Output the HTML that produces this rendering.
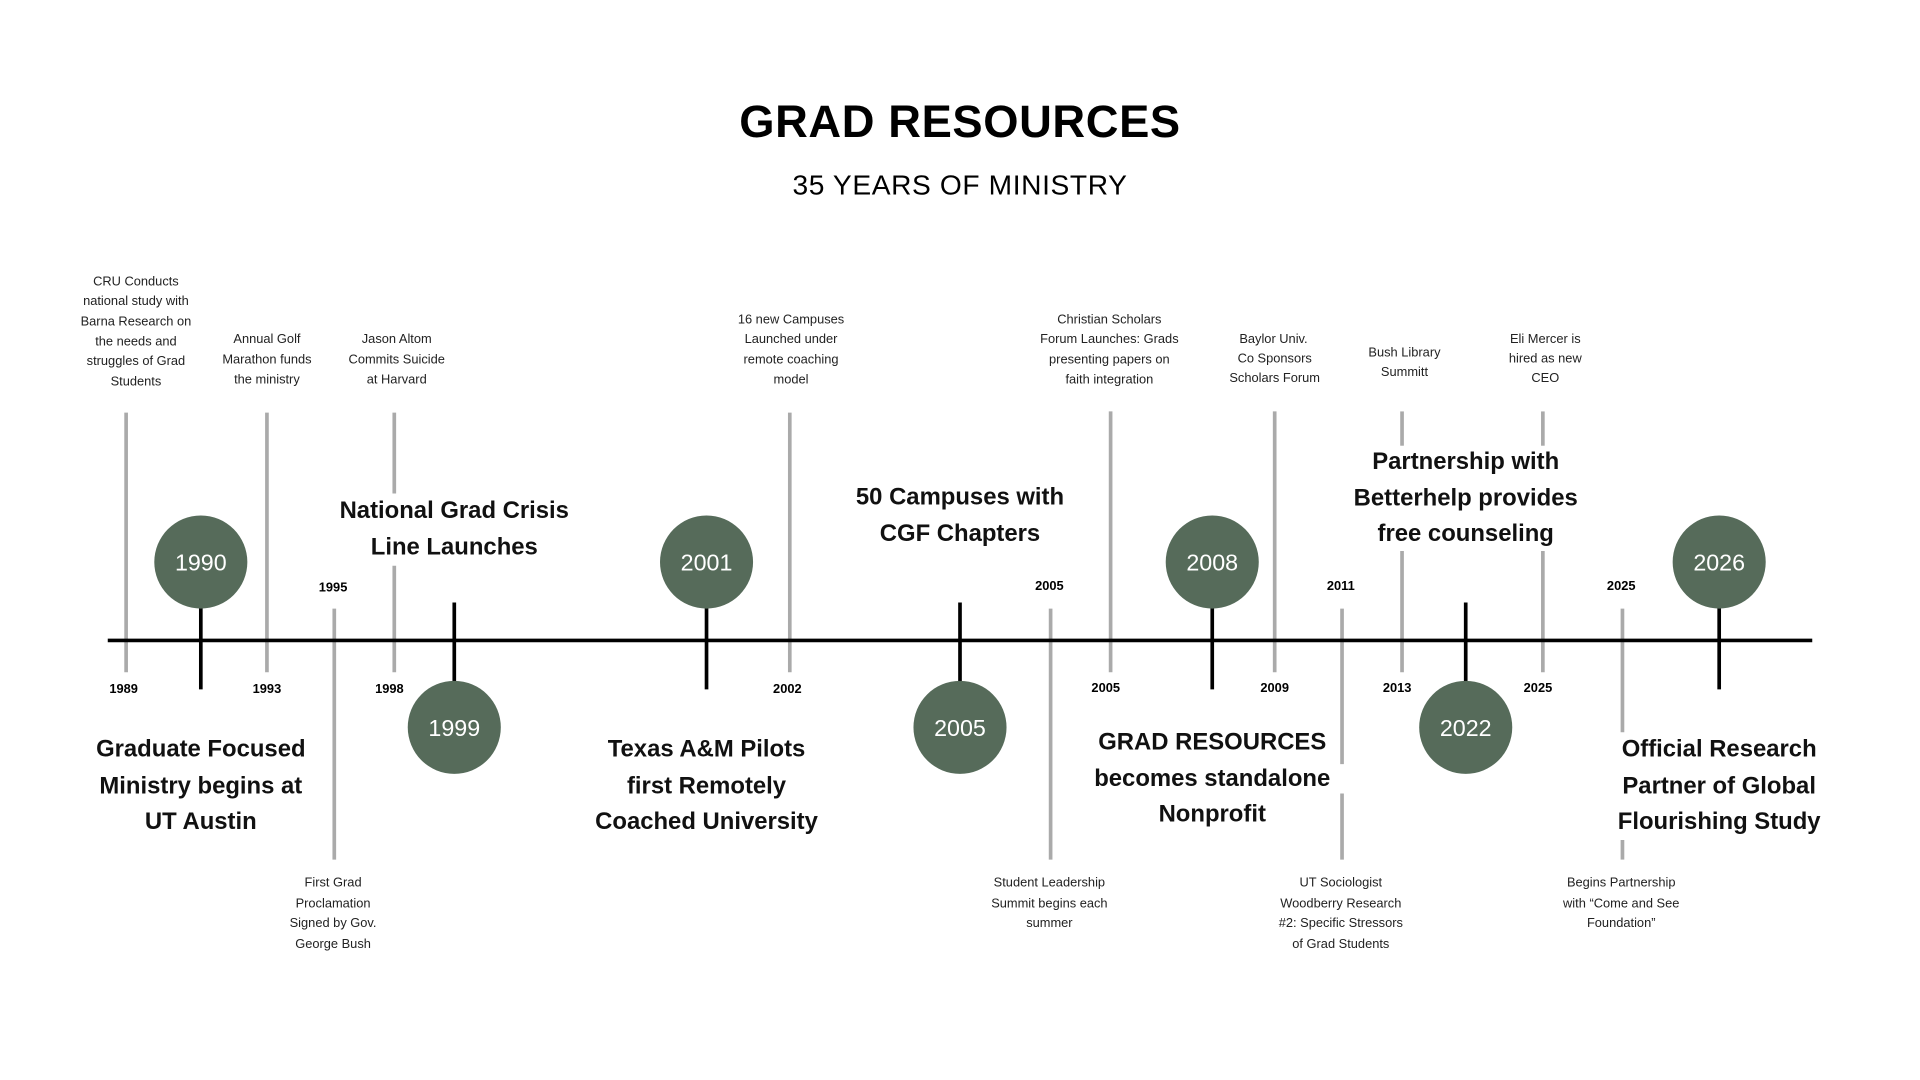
<!DOCTYPE html>
<html><head><meta charset="utf-8"><style>
html,body{margin:0;padding:0;background:#fff;}
svg{display:block;}
text{font-family:"Liberation Sans",sans-serif;fill:#000;}
.s{font-size:10.5px;text-anchor:middle;fill:#222;}
.y{font-size:10.5px;font-weight:bold;text-anchor:middle;}
.b{font-size:19.5px;font-weight:bold;text-anchor:middle;fill:#111;}
.c{font-size:19px;text-anchor:middle;fill:#fff;}
.g{stroke:#aaa;stroke-width:3;}
.k{stroke:#000;stroke-width:3;}
</style></head><body>
<svg width="1920" height="1080" viewBox="0 0 1568 882" xmlns="http://www.w3.org/2000/svg">
<text x="784" y="112" text-anchor="middle" font-size="37" font-weight="bold" letter-spacing="0.5">GRAD RESOURCES</text>
<text x="784" y="159" text-anchor="middle" font-size="23" letter-spacing="0.5">35 YEARS OF MINISTRY</text>

<line class="g" x1="103" y1="337" x2="103" y2="549"/>
<line class="g" x1="218" y1="337" x2="218" y2="549"/>
<line class="g" x1="322" y1="337" x2="322" y2="403"/><line class="g" x1="322" y1="462" x2="322" y2="549"/>
<line class="g" x1="273" y1="497" x2="273" y2="702"/>
<line class="g" x1="645" y1="337" x2="645" y2="549"/>
<line class="g" x1="858" y1="497" x2="858" y2="702"/>
<line class="g" x1="907" y1="336" x2="907" y2="549"/>
<line class="g" x1="1041" y1="336" x2="1041" y2="549"/>
<line class="g" x1="1096" y1="497" x2="1096" y2="624"/><line class="g" x1="1096" y1="648" x2="1096" y2="702"/>
<line class="g" x1="1145" y1="336" x2="1145" y2="364"/><line class="g" x1="1145" y1="450" x2="1145" y2="549"/>
<line class="g" x1="1260" y1="336" x2="1260" y2="364"/><line class="g" x1="1260" y1="450" x2="1260" y2="549"/>
<line class="g" x1="1325" y1="497" x2="1325" y2="598"/><line class="g" x1="1325" y1="686" x2="1325" y2="702"/>

<line class="k" x1="88" y1="523" x2="1480" y2="523"/>
<line class="k" x1="164" y1="490" x2="164" y2="563"/>
<line class="k" x1="577" y1="490" x2="577" y2="563"/>
<line class="k" x1="990" y1="490" x2="990" y2="563"/>
<line class="k" x1="1404" y1="490" x2="1404" y2="563"/>
<line class="k" x1="371" y1="492" x2="371" y2="560"/>
<line class="k" x1="784" y1="492" x2="784" y2="560"/>
<line class="k" x1="1197" y1="492" x2="1197" y2="560"/>

<g fill="#566b5a">
<circle cx="164" cy="459" r="38"/><circle cx="577" cy="459" r="38"/><circle cx="990" cy="459" r="38"/><circle cx="1404" cy="459" r="38"/>
<circle cx="371" cy="594" r="38"/><circle cx="784" cy="594" r="38"/><circle cx="1197" cy="594" r="38"/>
</g>
<text class="c" x="164" y="466">1990</text><text class="c" x="577" y="466">2001</text><text class="c" x="990" y="466">2008</text><text class="c" x="1404" y="466">2026</text>
<text class="c" x="371" y="601">1999</text><text class="c" x="784" y="601">2005</text><text class="c" x="1197" y="601">2022</text>

<text class="y" x="101" y="566">1989</text><text class="y" x="218" y="566">1993</text><text class="y" x="318" y="566">1998</text>
<text class="y" x="272" y="483">1995</text><text class="y" x="643" y="566">2002</text><text class="y" x="857" y="482">2005</text>
<text class="y" x="903" y="565">2005</text><text class="y" x="1041" y="565">2009</text><text class="y" x="1095" y="482">2011</text>
<text class="y" x="1141" y="565">2013</text><text class="y" x="1256" y="565">2025</text><text class="y" x="1324" y="482">2025</text>

<text class="s" x="111" y="233">CRU Conducts</text><text class="s" x="111" y="249">national study with</text><text class="s" x="111" y="266">Barna Research on</text><text class="s" x="111" y="282">the needs and</text><text class="s" x="111" y="298">struggles of Grad</text><text class="s" x="111" y="315">Students</text>
<text class="s" x="218" y="280">Annual Golf</text><text class="s" x="218" y="297">Marathon funds</text><text class="s" x="218" y="313">the ministry</text>
<text class="s" x="324" y="280">Jason Altom</text><text class="s" x="324" y="297">Commits Suicide</text><text class="s" x="324" y="313">at Harvard</text>
<text class="s" x="646" y="264">16 new Campuses</text><text class="s" x="646" y="280">Launched under</text><text class="s" x="646" y="297">remote coaching</text><text class="s" x="646" y="313">model</text>
<text class="s" x="906" y="264">Christian Scholars</text><text class="s" x="906" y="280">Forum Launches: Grads</text><text class="s" x="906" y="297">presenting papers on</text><text class="s" x="906" y="313">faith integration</text>
<text class="s" x="1040" y="280">Baylor Univ.</text><text class="s" x="1041" y="296">Co Sponsors</text><text class="s" x="1041" y="312">Scholars Forum</text>
<text class="s" x="1147" y="291">Bush Library</text><text class="s" x="1147" y="307">Summitt</text>
<text class="s" x="1262" y="280">Eli Mercer is</text><text class="s" x="1262" y="296">hired as new</text><text class="s" x="1262" y="312">CEO</text>
<text class="s" x="272" y="724">First Grad</text><text class="s" x="272" y="741">Proclamation</text><text class="s" x="272" y="757">Signed by Gov.</text><text class="s" x="272" y="774">George Bush</text>
<text class="s" x="857" y="724">Student Leadership</text><text class="s" x="857" y="741">Summit begins each</text><text class="s" x="857" y="757">summer</text>
<text class="s" x="1095" y="724">UT Sociologist</text><text class="s" x="1095" y="741">Woodberry Research</text><text class="s" x="1095" y="757">#2: Specific Stressors</text><text class="s" x="1095" y="774">of Grad Students</text>
<text class="s" x="1324" y="724">Begins Partnership</text><text class="s" x="1324" y="741">with “Come and See</text><text class="s" x="1324" y="757">Foundation”</text>

<text class="b" x="371" y="423">National Grad Crisis</text><text class="b" x="371" y="453">Line Launches</text>
<text class="b" x="164" y="618">Graduate Focused</text><text class="b" x="164" y="648">Ministry begins at</text><text class="b" x="164" y="677">UT Austin</text>
<text class="b" x="577" y="618">Texas A&amp;M Pilots</text><text class="b" x="577" y="648">first Remotely</text><text class="b" x="577" y="677">Coached University</text>
<text class="b" x="784" y="412">50 Campuses with</text><text class="b" x="784" y="442">CGF Chapters</text>
<text class="b" x="990" y="612">GRAD RESOURCES</text><text class="b" x="990" y="642">becomes standalone</text><text class="b" x="990" y="671">Nonprofit</text>
<text class="b" x="1197" y="383">Partnership with</text><text class="b" x="1197" y="413">Betterhelp provides</text><text class="b" x="1197" y="442">free counseling</text>
<text class="b" x="1404" y="618">Official Research</text><text class="b" x="1404" y="648">Partner of Global</text><text class="b" x="1404" y="677">Flourishing Study</text>
</svg>
</body></html>
